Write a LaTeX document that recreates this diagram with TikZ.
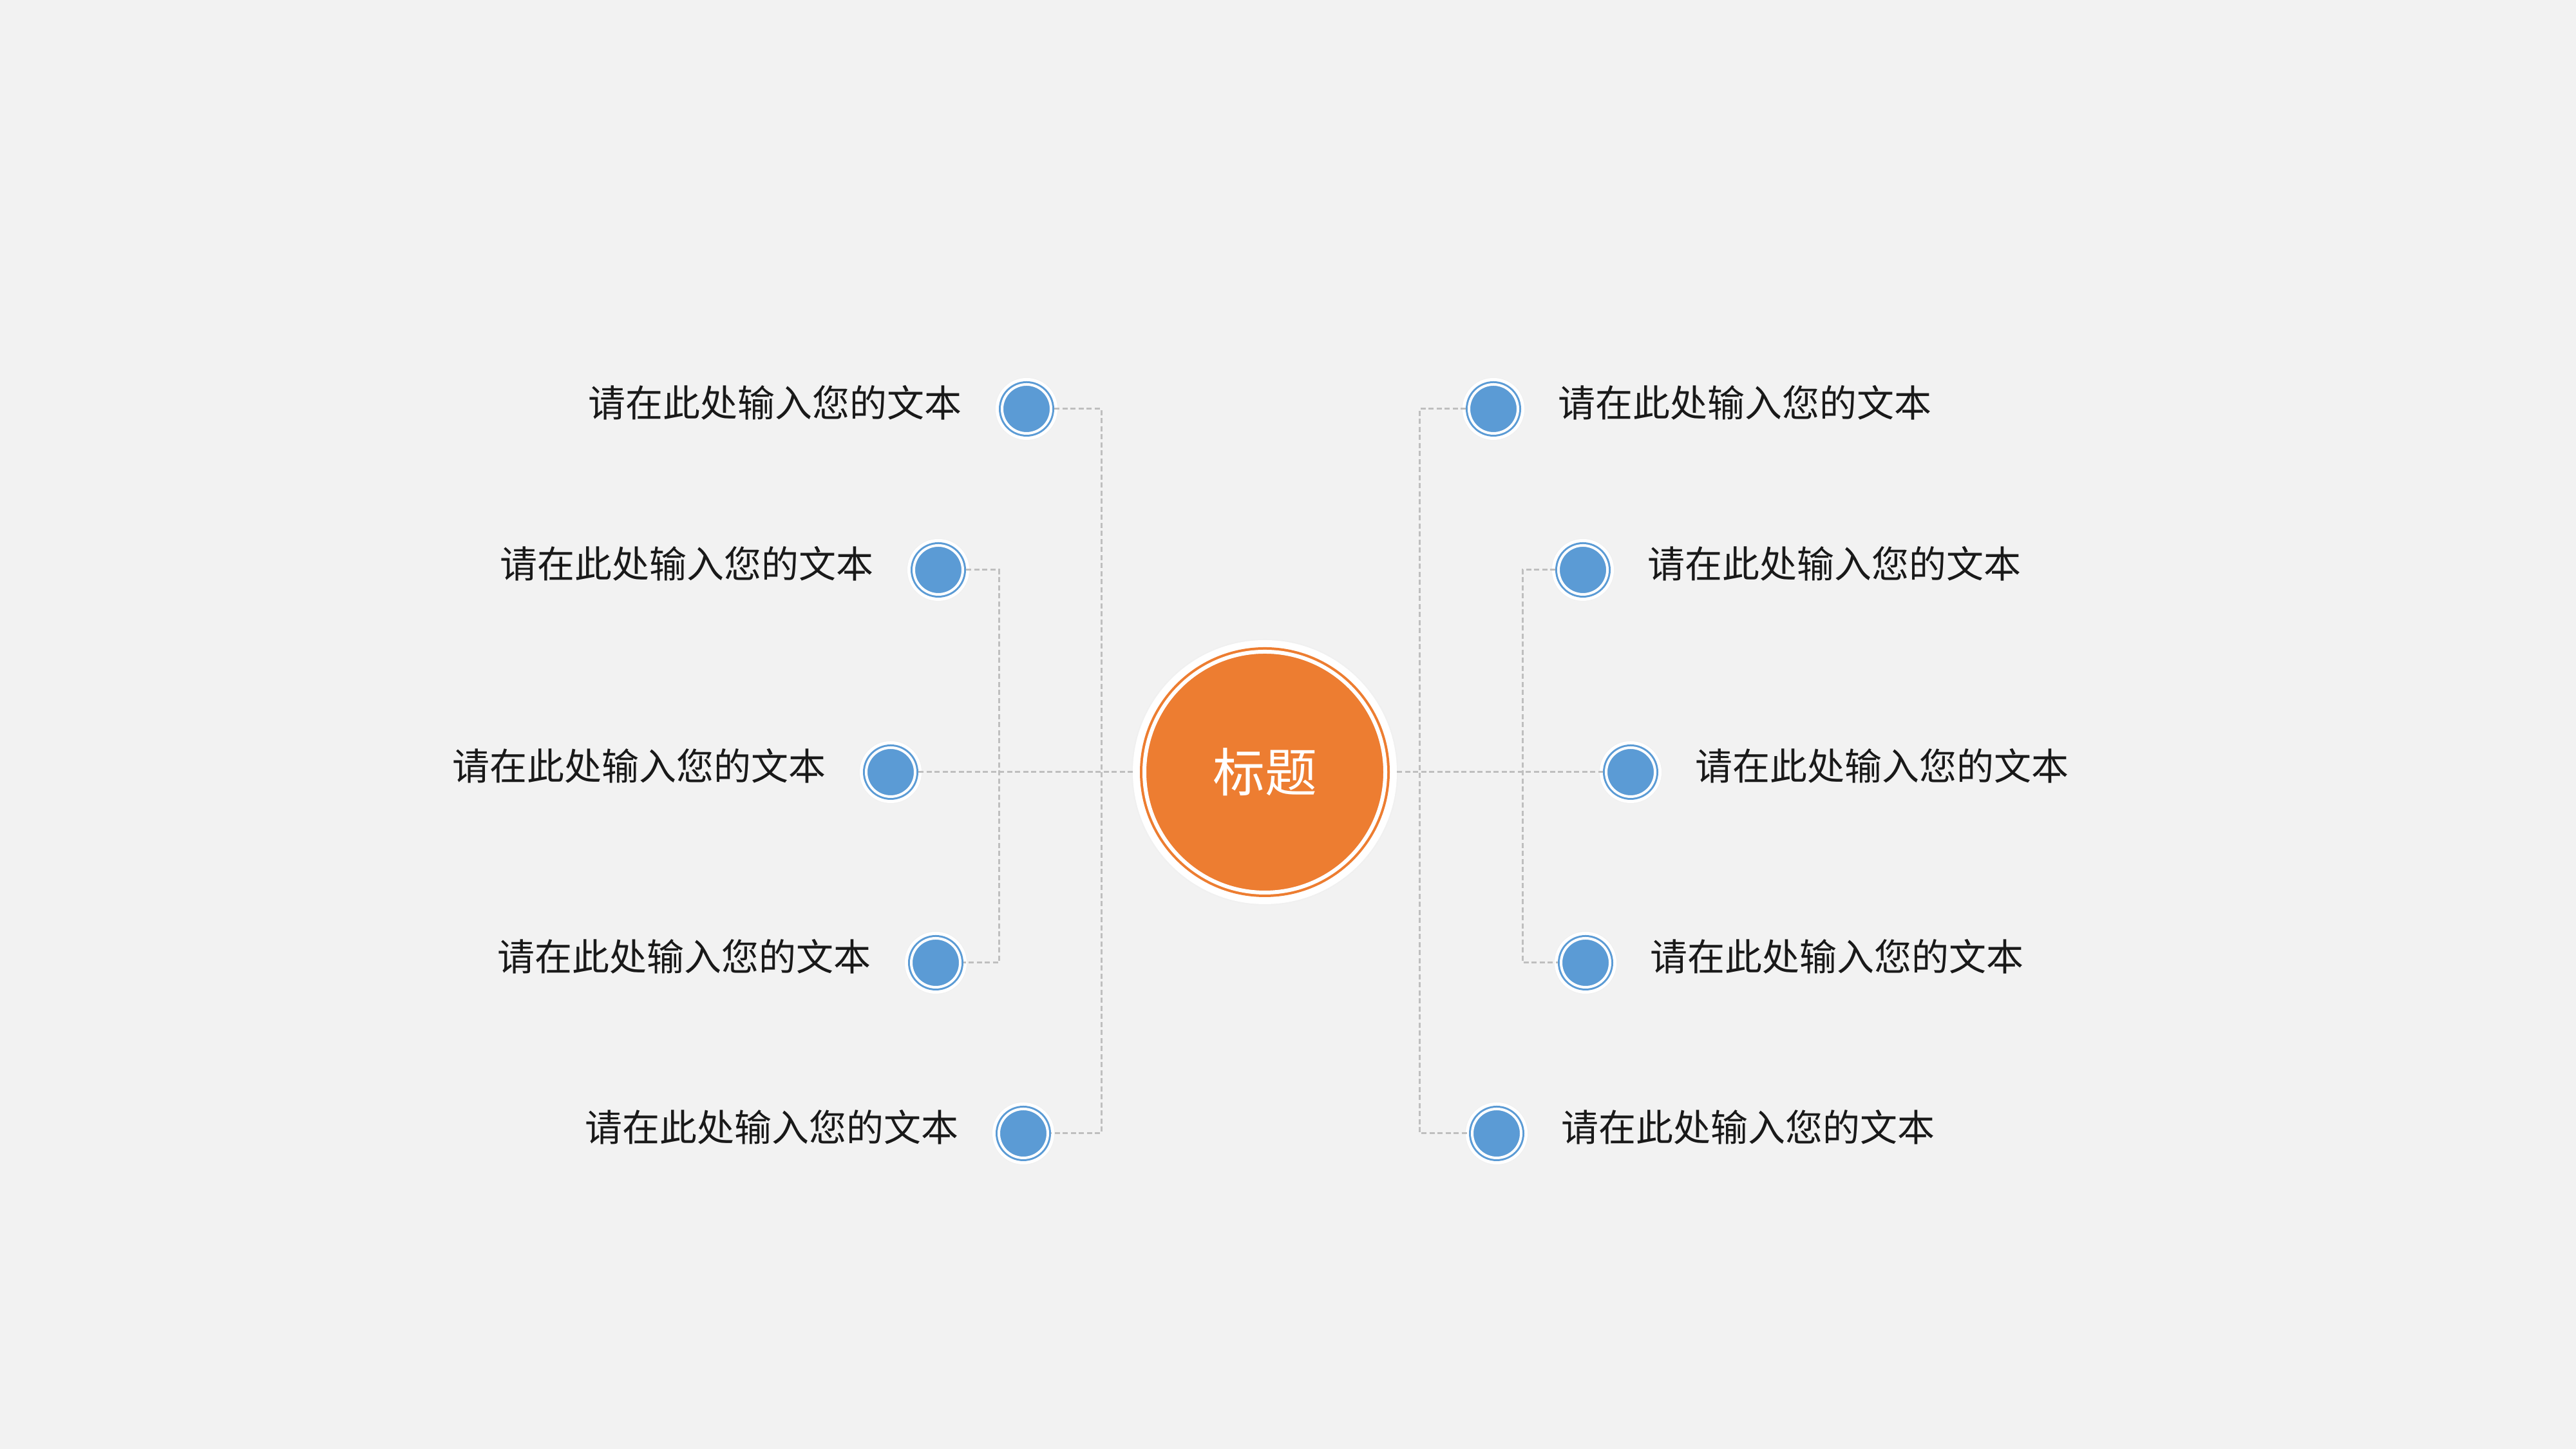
\documentclass[tikz,border=0pt]{standalone}
\usepackage{fontspec}
\setmainfont{Noto Sans CJK SC}
\usetikzlibrary{positioning}
\definecolor{bggray}{RGB}{242,242,242}
\definecolor{dotblue}{RGB}{91,155,213}
\definecolor{titleorange}{RGB}{237,125,49}
\definecolor{linegray}{RGB}{191,191,191}

\begin{document}
\begin{tikzpicture}[
    dot/.style={circle,minimum size=0.76cm,inner sep=0pt,outer sep=0.05cm,fill=dotblue,draw=white,line width=0.04cm,
      preaction={draw=black!6,line width=0.22cm},
      preaction={draw=white,line width=0.20cm},
      preaction={draw=dotblue,line width=0.10cm}},
    title/.style={circle,minimum size=3.74cm,inner sep=0pt,outer sep=0.18cm,fill=titleorange,draw=white,line width=0.06cm,
      preaction={draw=black!6,line width=0.40cm},
      preaction={draw=white,line width=0.36cm},
      preaction={draw=titleorange,line width=0.14cm},
      text=white,font=\fontsize{23}{28}\selectfont},
    txt/.style={inner sep=0pt,text=black!90,font=\fontsize{16.5}{20}\selectfont},
    link/.style={draw=linegray,line width=0.03cm,dash pattern=on 0.08cm off 0.045cm}]

% Background
\fill[bggray] (0,0) rectangle (40,22.5);
\useasboundingbox (0,0) rectangle (40,22.5);

% Title
\node[title] (title) at (19.64,10.51) {标题};

% Left dots
\node[dot] (l1) at (15.94,16.15) {};
\node[dot] (l2) at (14.57,13.65) {};
\node[dot] (l3) at (13.83,10.51) {};
\node[dot] (l4) at (14.53,7.55) {};
\node[dot] (l5) at (15.89,4.90) {};

% Right dots
\node[dot] (r1) at (23.19,16.15) {};
\node[dot] (r2) at (24.58,13.65) {};
\node[dot] (r3) at (25.32,10.51) {};
\node[dot] (r4) at (24.62,7.55) {};
\node[dot] (r5) at (23.24,4.90) {};

% Labels
\node[txt,left=0.57cm of l1,yshift=0.1cm] (tl1) {请在此处输入您的文本};
\node[txt,left=0.57cm of l2,yshift=0.1cm] (tl2) {请在此处输入您的文本};
\node[txt,left=0.57cm of l3,yshift=0.1cm] (tl3) {请在此处输入您的文本};
\node[txt,left=0.57cm of l4,yshift=0.1cm] (tl4) {请在此处输入您的文本};
\node[txt,left=0.57cm of l5,yshift=0.1cm] (tl5) {请在此处输入您的文本};
\node[txt,right=0.57cm of r1,yshift=0.1cm] (tr1) {请在此处输入您的文本};
\node[txt,right=0.57cm of r2,yshift=0.1cm] (tr2) {请在此处输入您的文本};
\node[txt,right=0.57cm of r3,yshift=0.1cm] (tr3) {请在此处输入您的文本};
\node[txt,right=0.57cm of r4,yshift=0.1cm] (tr4) {请在此处输入您的文本};
\node[txt,right=0.57cm of r5,yshift=0.1cm] (tr5) {请在此处输入您的文本};

% Bracket joints
\coordinate (lo) at (17.10,10.51);
\coordinate (li) at (15.51,10.51);
\coordinate (ro) at (22.04,10.51);
\coordinate (ri) at (23.64,10.51);

% Connections
\draw[link] (l1) -| (lo) |- (l5);
\draw[link] (l2) -| (li) |- (l4);
\draw[link] (l3) -- (title);
\draw[link] (r1) -| (ro) |- (r5);
\draw[link] (r2) -| (ri) |- (r4);
\draw[link] (title) -- (r3);
\end{tikzpicture}
\end{document}
